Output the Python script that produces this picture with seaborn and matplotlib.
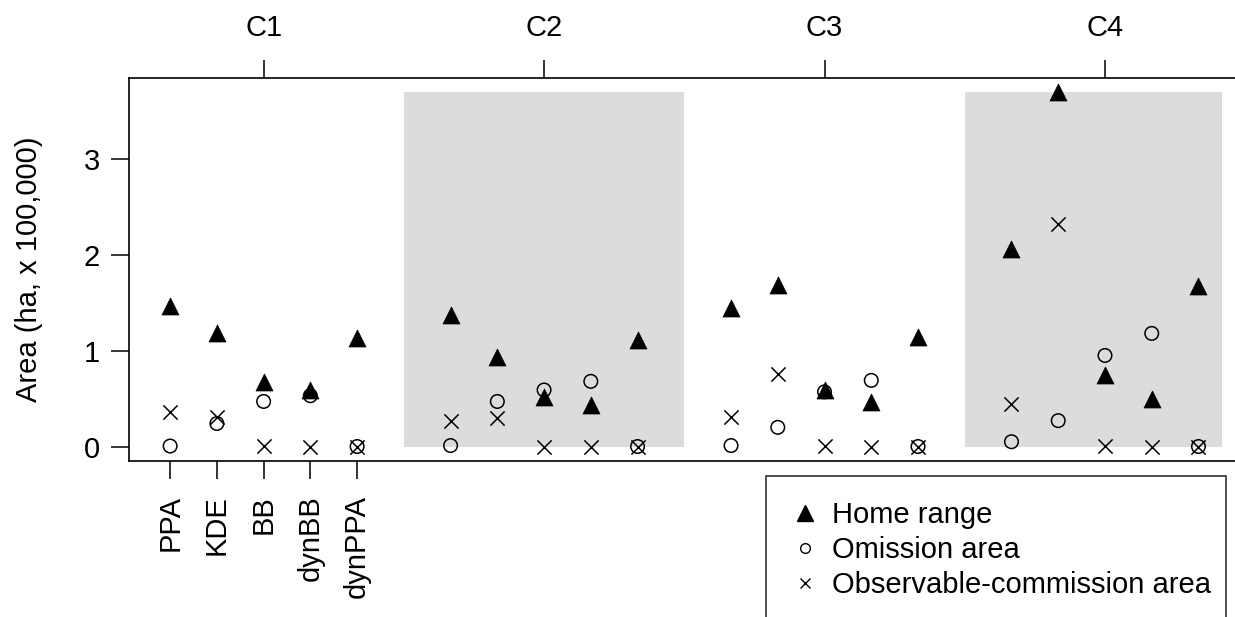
import matplotlib
matplotlib.use("Agg")
import matplotlib.pyplot as plt
from matplotlib.lines import Line2D
from matplotlib.patches import Rectangle
import seaborn as sns
import pandas as pd
import numpy as np

# ---- data ----
methods = ["PPA", "KDE", "BB", "dynBB", "dynPPA"]
groups = ["C1", "C2", "C3", "C4"]
shaded_groups = ["C2", "C4"]
home_range = [1.47, 1.18, 0.67, 0.59, 1.13,
              1.37, 0.93, 0.52, 0.43, 1.11,
              1.45, 1.69, 0.59, 0.46, 1.14,
              2.06, 3.70, 0.75, 0.50, 1.67]
omission = [0.005, 0.24, 0.47, 0.53, 0.00,
            0.01, 0.47, 0.59, 0.68, 0.00,
            0.01, 0.20, 0.57, 0.69, 0.00,
            0.05, 0.27, 0.95, 1.18, 0.00]
commission = [0.36, 0.31, 0.01, 0.00, 0.00,
              0.27, 0.30, 0.00, 0.00, 0.00,
              0.31, 0.76, 0.01, 0.00, 0.00,
              0.44, 2.32, 0.01, 0.00, 0.00]
series_names = ["Home range", "Omission area", "Observable-commission area"]
y_ticks = [0, 1, 2, 3]
y_label = "Area (ha, x 100,000)"

# ---- layout ----
gap = 6  # slots per group (5 methods + 1 empty)
rows = []
for gi, g in enumerate(groups):
    for mi, m in enumerate(methods):
        k = gi * len(methods) + mi
        xpos = gi * gap + mi + 1
        rows.append(dict(group=g, method=m, x=xpos, measure=series_names[0], value=home_range[k]))
        rows.append(dict(group=g, method=m, x=xpos, measure=series_names[1], value=omission[k]))
        rows.append(dict(group=g, method=m, x=xpos, measure=series_names[2], value=commission[k]))
df = pd.DataFrame(rows)

W, H = 1235, 617
fig = plt.figure(figsize=(W / 100, H / 100), dpi=100)
plt.rcParams["font.family"] = ["Liberation Sans", "DejaVu Sans"]
FS = 21

ax_left, ax_right, ax_top, ax_bottom = 129, 1239.6, 77.7, 460.7
ax = fig.add_axes([ax_left / W, 1 - ax_bottom / H, (ax_right - ax_left) / W, (ax_bottom - ax_top) / H])

ymax = max(home_range)
ax.set_xlim(0.12, 23.88)
ax.set_ylim(-0.148, 3.848)

# shaded group backgrounds
for g in shaded_groups:
    gi = groups.index(g)
    x0 = gi * gap
    x1 = min(gi * gap + gap, 23.5)
    ax.add_patch(Rectangle((x0, 0), x1 - x0, ymax, facecolor="#DCDCDC", edgecolor="none", zorder=0))

styles = {
    series_names[0]: dict(marker="^", s=150, color="black", edgecolor="black", linewidth=0.5),
    series_names[1]: dict(marker="o", s=95, facecolor="none", edgecolor="black", linewidth=1.1),
    series_names[2]: dict(marker="x", s=105, color="black", linewidth=1.1),
}
for name in series_names:
    sub = df[df["measure"] == name]
    sns.scatterplot(data=sub, x="x", y="value", ax=ax, legend=False, zorder=3, **styles[name])

# bottom axis: method labels for the first group only
ax.set_xticks([i + 1 for i in range(len(methods))])
ax.set_xticklabels(methods, rotation=90, fontsize=FS)
ax.tick_params(axis="x", direction="out", length=13, width=1.1, pad=12)
for lab in ax.get_xticklabels():
    lab.set_verticalalignment("top")

ax.set_yticks(y_ticks)
ax.set_yticklabels([str(v) for v in y_ticks], fontsize=FS)
ax.tick_params(axis="y", direction="out", length=13, width=1.1, pad=8)

ax.set_xlabel("")
ax.set_ylabel(y_label, fontsize=FS)
ax.yaxis.set_label_coords((43 - ax_left) / (ax_right - ax_left), 0.5)

# top axis: group labels
sec = ax.secondary_xaxis("top")
sec.set_xticks([gi * gap + 3 for gi in range(len(groups))])
sec.set_xticklabels(groups, fontsize=FS)
sec.tick_params(axis="x", direction="out", length=13, width=1.1, pad=13)
sec.spines["top"].set_visible(False)

for sp in ax.spines.values():
    sp.set_linewidth(1.2)
    sp.set_color("black")

handles = [
    Line2D([], [], linestyle="none", marker="^", markersize=11, color="black"),
    Line2D([], [], linestyle="none", marker="o", markersize=7, markerfacecolor="none",
           markeredgecolor="black", markeredgewidth=1.0),
    Line2D([], [], linestyle="none", marker="x", markersize=7, color="black", markeredgewidth=1.0),
]
leg_left, leg_right, leg_top, leg_bottom = 766, 1225.7, 476, 620
leg = ax.legend(handles, series_names, loc="upper left",
                bbox_to_anchor=(leg_left / W, 1 - leg_bottom / H, (leg_right - leg_left) / W, (leg_bottom - leg_top) / H),
                bbox_transform=fig.transFigure, mode="expand", borderaxespad=0,
                fontsize=FS, frameon=True, fancybox=False, borderpad=0.85,
                handlelength=1.0, handletextpad=0.42, labelspacing=0.24)
leg.get_frame().set_edgecolor("black")
leg.get_frame().set_linewidth(1.2)
leg.set_clip_on(False)

fig.savefig("out.png", dpi=100)
